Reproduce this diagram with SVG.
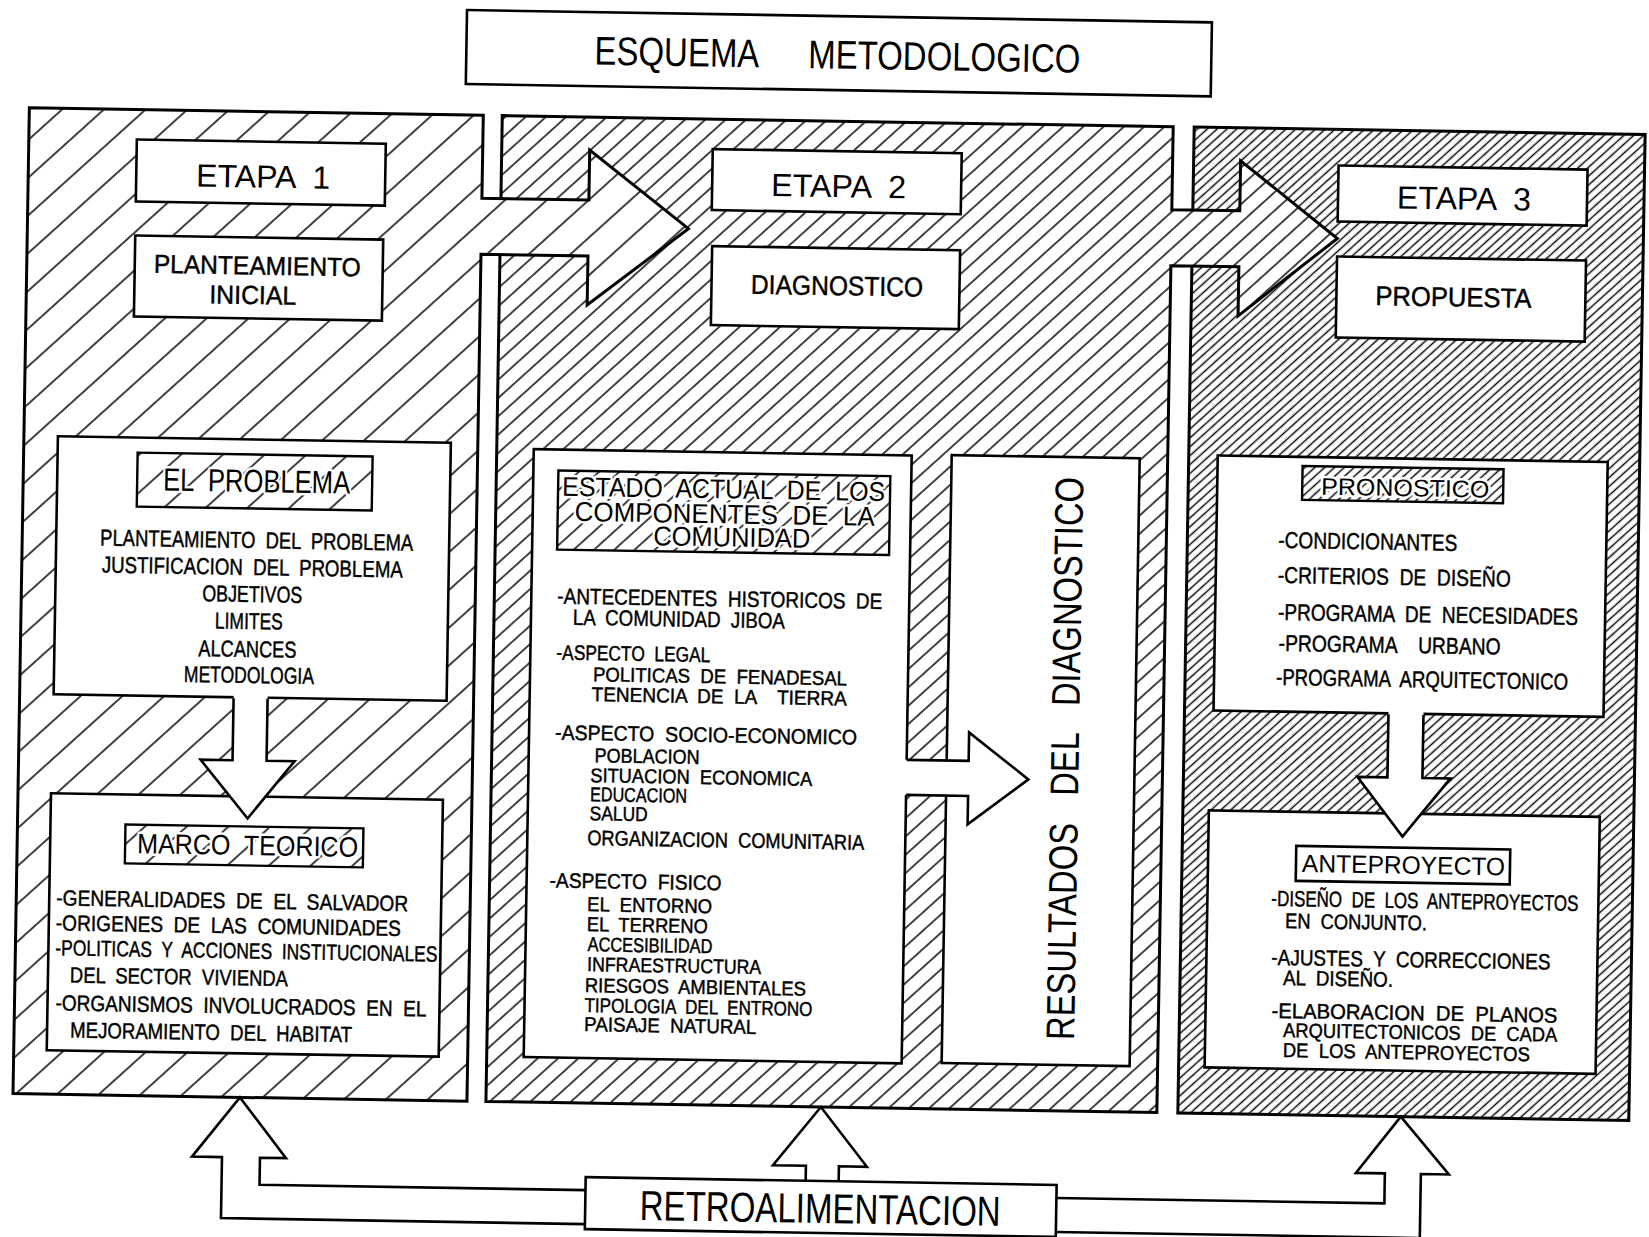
<svg xmlns="http://www.w3.org/2000/svg" width="1649" height="1237" viewBox="0 0 1649 1237">
<style>
.o{stroke:#000;stroke-width:3;stroke-linejoin:miter}
.bx{fill:#fff;stroke:#000;stroke-width:2.6}
.lb{stroke:#000;stroke-width:2.4}
.t{font-family:"Liberation Sans Narrow","Liberation Sans",Arial,sans-serif;fill:#000;white-space:pre}
.b{stroke:#000;stroke-width:0.45}
.hl{paint-order:stroke;stroke:#fff;stroke-width:5;stroke-linejoin:round}
.ar{fill:#fff;stroke:none}
.al{fill:none;stroke:#000;stroke-width:2.6;stroke-linejoin:miter}
</style>
<defs>
<pattern id="h1" patternUnits="userSpaceOnUse" width="40" height="28" patternTransform="rotate(-43)"><line x1="-1" y1="14" x2="41" y2="14" stroke="#000" stroke-width="1.6"/></pattern>
<pattern id="h2" patternUnits="userSpaceOnUse" width="40" height="13.6" patternTransform="rotate(-43)"><line x1="-1" y1="6.8" x2="41" y2="6.8" stroke="#000" stroke-width="1.5"/></pattern>
<pattern id="h3" patternUnits="userSpaceOnUse" width="40" height="6.6" patternTransform="rotate(-43)"><line x1="-1" y1="3.3" x2="41" y2="3.3" stroke="#000" stroke-width="1.3"/></pattern>
</defs>
<rect width="1649" height="1237" fill="#fff"/>
<g transform="rotate(0.95 824 618)">

<g id="panel3">
<rect x="1186" y="121" width="451" height="986" fill="#fff"/>
<rect x="1186" y="121" width="451" height="986" fill="url(#h3)" class="o"/>
</g>
<g id="panel2">
<path d="M494,121 H1165 V204 H1233 V154 L1331,230 L1233,309 V260 H1165 V1107 H494 Z" fill="#fff"/>
<path d="M494,121 H1165 V204 H1233 V154 L1331,230 L1233,309 V260 H1165 V1107 H494 Z" fill="url(#h2)" class="o"/>
</g>
<g id="panel1">
<path d="M21,121 H475 V204 H582 V154 L682,231 L582,309 V260 H475 V1107 H21 Z" fill="#fff"/>
<path d="M21,121 H475 V204 H582 V154 L682,231 L582,309 V260 H475 V1107 H21 Z" fill="url(#h1)" class="o"/>
</g>

<g id="title">
<rect x="457" y="16" width="745" height="74" class="bx" stroke-width="3"/>
<text class="t" x="585" y="68.5" font-size="40" textLength="165" lengthAdjust="spacingAndGlyphs">ESQUEMA</text>
<text class="t" x="799" y="68.5" font-size="40" textLength="272" lengthAdjust="spacingAndGlyphs">METODOLOGICO</text>
</g>

<g id="etapa1">
<rect x="129" y="151" width="249" height="62" class="bx"/>
<text class="t" x="189" y="197" font-size="32" textLength="134" lengthAdjust="spacingAndGlyphs">ETAPA  1</text>
</g>
<g id="planteamiento">
<rect x="129" y="247" width="248" height="81" class="bx"/>
<text class="t b" font-size="26"><tspan x="148" y="284" textLength="207" lengthAdjust="spacingAndGlyphs">PLANTEAMIENTO</tspan><tspan x="204" y="313.5" textLength="87" lengthAdjust="spacingAndGlyphs">INICIAL</tspan></text>
</g>
<g id="problema">
<rect x="55" y="449" width="393" height="258" class="bx"/>
<rect x="135" y="464" width="235" height="54" fill="url(#h1)" class="lb"/>
<text class="t hl" x="161" y="501.5" font-size="32" textLength="187" lengthAdjust="spacingAndGlyphs">EL  PROBLEMA</text>
<text class="t b" font-size="23"><tspan x="99" y="557.5" textLength="313" lengthAdjust="spacingAndGlyphs">PLANTEAMIENTO  DEL  PROBLEMA</tspan><tspan x="101" y="584.5" textLength="301" lengthAdjust="spacingAndGlyphs">JUSTIFICACION  DEL  PROBLEMA</tspan><tspan x="202" y="611.5" textLength="100" lengthAdjust="spacingAndGlyphs">OBJETIVOS</tspan><tspan x="215" y="638.5" textLength="68" lengthAdjust="spacingAndGlyphs">LIMITES</tspan><tspan x="199" y="666.5" textLength="98" lengthAdjust="spacingAndGlyphs">ALCANCES</tspan><tspan x="185" y="692.5" textLength="130" lengthAdjust="spacingAndGlyphs">METODOLOGIA</tspan></text>
</g>
<g id="marco">
<rect x="54" y="806" width="392" height="257" class="bx"/>
<rect x="129" y="836" width="238" height="39" fill="url(#h1)" class="lb"/>
<text class="t hl" x="141" y="864.5" font-size="28" textLength="221" lengthAdjust="spacingAndGlyphs">MARCO  TEORICO</text>
<text class="t b" font-size="22"><tspan x="61" y="918" textLength="352" lengthAdjust="spacingAndGlyphs">-GENERALIDADES  DE  EL  SALVADOR</tspan><tspan x="61" y="943" textLength="345" lengthAdjust="spacingAndGlyphs">-ORIGENES  DE  LAS  COMUNIDADES</tspan><tspan x="61" y="968" textLength="382" lengthAdjust="spacingAndGlyphs">-POLITICAS  Y  ACCIONES  INSTITUCIONALES</tspan><tspan x="76" y="995" textLength="218" lengthAdjust="spacingAndGlyphs">DEL  SECTOR  VIVIENDA</tspan><tspan x="62" y="1023" textLength="371" lengthAdjust="spacingAndGlyphs">-ORGANISMOS  INVOLUCRADOS  EN  EL</tspan><tspan x="77" y="1050" textLength="282" lengthAdjust="spacingAndGlyphs">MEJORAMIENTO  DEL  HABITAT</tspan></text>
</g>

<g id="etapa2">
<rect x="705" y="151" width="249" height="61" class="bx"/>
<text class="t" x="764" y="197" font-size="32" textLength="135" lengthAdjust="spacingAndGlyphs">ETAPA  2</text>
</g>
<g id="diagnostico">
<rect x="706" y="248" width="248" height="79" class="bx"/>
<text class="t b" x="745.5" y="295" font-size="27" textLength="172" lengthAdjust="spacingAndGlyphs">DIAGNOSTICO</text>
</g>
<g id="estado">
<rect x="531" y="454" width="378" height="608" class="bx"/>
<rect x="556" y="475" width="332" height="79" fill="url(#h2)" class="lb"/>
<text class="t hl" font-size="27"><tspan x="560" y="500" textLength="323" lengthAdjust="spacingAndGlyphs">ESTADO  ACTUAL  DE  LOS</tspan><tspan x="573" y="525" textLength="300" lengthAdjust="spacingAndGlyphs">COMPONENTES  DE  LA</tspan><tspan x="652" y="548" textLength="157" lengthAdjust="spacingAndGlyphs">COMUNIDAD</tspan></text>
<text class="t b" font-size="20"><tspan x="557" y="608" font-size="22" textLength="325" lengthAdjust="spacingAndGlyphs">-ANTECEDENTES  HISTORICOS  DE</tspan><tspan x="573" y="629" font-size="22" textLength="212" lengthAdjust="spacingAndGlyphs">LA  COMUNIDAD  JIBOA</tspan><tspan x="557" y="664" font-size="21" textLength="154" lengthAdjust="spacingAndGlyphs">-ASPECTO  LEGAL</tspan><tspan x="594" y="685" textLength="254" lengthAdjust="spacingAndGlyphs">POLITICAS  DE  FENADESAL</tspan><tspan x="593" y="705" textLength="255" lengthAdjust="spacingAndGlyphs">TENENCIA  DE  LA    TIERRA</tspan><tspan x="557" y="744" font-size="21" textLength="302" lengthAdjust="spacingAndGlyphs">-ASPECTO  SOCIO-ECONOMICO</tspan><tspan x="597" y="766" textLength="105" lengthAdjust="spacingAndGlyphs">POBLACION</tspan><tspan x="593" y="786" textLength="222" lengthAdjust="spacingAndGlyphs">SITUACION  ECONOMICA</tspan><tspan x="593" y="805" textLength="97" lengthAdjust="spacingAndGlyphs">EDUCACION</tspan><tspan x="593" y="824" textLength="58" lengthAdjust="spacingAndGlyphs">SALUD</tspan><tspan x="591" y="849" font-size="21" textLength="277" lengthAdjust="spacingAndGlyphs">ORGANIZACION  COMUNITARIA</tspan><tspan x="554" y="892" font-size="21" textLength="172" lengthAdjust="spacingAndGlyphs">-ASPECTO  FISICO</tspan><tspan x="592" y="915" textLength="125" lengthAdjust="spacingAndGlyphs">EL  ENTORNO</tspan><tspan x="592" y="935" textLength="121" lengthAdjust="spacingAndGlyphs">EL  TERRENO</tspan><tspan x="593" y="955" textLength="125" lengthAdjust="spacingAndGlyphs">ACCESIBILIDAD</tspan><tspan x="593" y="975" textLength="174" lengthAdjust="spacingAndGlyphs">INFRAESTRUCTURA</tspan><tspan x="591" y="996" textLength="221" lengthAdjust="spacingAndGlyphs">RIESGOS  AMBIENTALES</tspan><tspan x="591" y="1016" textLength="228" lengthAdjust="spacingAndGlyphs">TIPOLOGIA  DEL  ENTRONO</tspan><tspan x="591" y="1035" textLength="172" lengthAdjust="spacingAndGlyphs">PAISAJE  NATURAL</tspan></text>
</g>
<g id="resultados">
<rect x="949" y="453" width="188" height="608" class="bx"/>
<text class="t" transform="translate(1081,1036) rotate(-90)" x="0" y="0" font-size="40" textLength="563" lengthAdjust="spacingAndGlyphs">RESULTADOS   DEL   DIAGNOSTICO</text>
</g>

<g id="etapa3">
<rect x="1331" y="157" width="249" height="56" class="bx"/>
<text class="t" x="1390" y="199" font-size="32" textLength="134" lengthAdjust="spacingAndGlyphs">ETAPA  3</text>
</g>
<g id="propuesta">
<rect x="1331" y="248" width="249" height="81" class="bx"/>
<text class="t b" x="1370" y="296" font-size="27" textLength="156" lengthAdjust="spacingAndGlyphs">PROPUESTA</text>
</g>
<g id="pronostico">
<rect x="1215" y="449" width="390" height="255" class="bx"/>
<rect x="1300" y="458" width="201" height="34" fill="url(#h3)" class="lb"/>
<text class="t hl" x="1319" y="486.5" font-size="24" textLength="168" lengthAdjust="spacingAndGlyphs">PRONOSTICO</text>
<text class="t b" font-size="23"><tspan x="1277" y="540.4" textLength="179" lengthAdjust="spacingAndGlyphs">-CONDICIONANTES</tspan><tspan x="1277" y="575.4" textLength="233" lengthAdjust="spacingAndGlyphs">-CRITERIOS  DE  DISEÑO</tspan><tspan x="1278" y="612.4" textLength="300" lengthAdjust="spacingAndGlyphs">-PROGRAMA  DE  NECESIDADES</tspan><tspan x="1279" y="643.4" textLength="222" lengthAdjust="spacingAndGlyphs">-PROGRAMA    URBANO</tspan><tspan x="1277" y="677.4" textLength="292" lengthAdjust="spacingAndGlyphs">-PROGRAMA  ARQUITECTONICO</tspan></text>
</g>
<g id="anteproyecto">
<rect x="1212" y="804" width="391" height="257" class="bx"/>
<rect x="1300" y="838" width="214" height="35" class="bx" stroke-width="2.4"/>
<text class="t" x="1306" y="864" font-size="25" textLength="203" lengthAdjust="spacingAndGlyphs">ANTEPROYECTO</text>
<text class="t b" font-size="21"><tspan x="1276" y="898.4" font-size="22" textLength="307" lengthAdjust="spacingAndGlyphs">-DISEÑO  DE  LOS  ANTEPROYECTOS</tspan><tspan x="1290" y="920.4" textLength="142" lengthAdjust="spacingAndGlyphs">EN  CONJUNTO.</tspan><tspan x="1277" y="957.4" font-size="22" textLength="279" lengthAdjust="spacingAndGlyphs">-AJUSTES  Y  CORRECCIONES</tspan><tspan x="1289" y="977.4" textLength="110" lengthAdjust="spacingAndGlyphs">AL  DISEÑO.</tspan><tspan x="1278" y="1010.4" textLength="286" lengthAdjust="spacingAndGlyphs">-ELABORACION  DE  PLANOS</tspan><tspan x="1290" y="1029.4" font-size="20" textLength="274" lengthAdjust="spacingAndGlyphs">ARQUITECTONICOS  DE  CADA</tspan><tspan x="1290" y="1049.4" font-size="20" textLength="247" lengthAdjust="spacingAndGlyphs">DE  LOS  ANTEPROYECTOS</tspan></text>
</g>

<g id="connectors">
<path class="ar" d="M235,704 V770 H203 L251,828 L297,770 H269 V704 Z"/>
<path class="al" d="M235,708 V770 H203 L251,828 L297,770 H269 V708"/>
<path class="ar" d="M1390,701 V768 H1360 L1406,827 L1453,768 H1425 V701 Z"/>
<path class="al" d="M1390,705 V768 H1360 L1406,827 L1453,768 H1425 V705"/>
<path class="ar" d="M905,758.5 H971 V730 L1031,776 L971,822 V793.5 H905 Z"/>
<path class="al" d="M909,758.5 H971 V730 L1031,776 L971,822 V793.5 H909"/>
<path class="ar" d="M595,1228 H231 V1167 H201 L248,1107 L295,1167 H269 V1194 H595 Z"/>
<path class="al" d="M595,1228 H231 V1167 H201 L248,1107 L295,1167 H269 V1194 H595"/>
<path class="ar" d="M815,1182 V1166 H782 L829,1107 L876,1166 H848 V1182 Z"/>
<path class="al" d="M815,1182 V1166 H782 L829,1107 L876,1166 H848 V1182"/>
<path class="ar" d="M1066,1194 H1394 V1164 H1365 L1409,1107 L1458,1164 H1430 V1228 H1066 Z"/>
<path class="al" d="M1066,1194 H1394 V1164 H1365 L1409,1107 L1458,1164 H1430 V1228 H1066"/>
</g>

<g id="retroalimentacion">
<rect x="595" y="1181" width="471" height="52" class="bx"/>
<text class="t" x="649.5" y="1223" font-size="42" textLength="361" lengthAdjust="spacingAndGlyphs">RETROALIMENTACION</text>
</g>

</g>
</svg>
